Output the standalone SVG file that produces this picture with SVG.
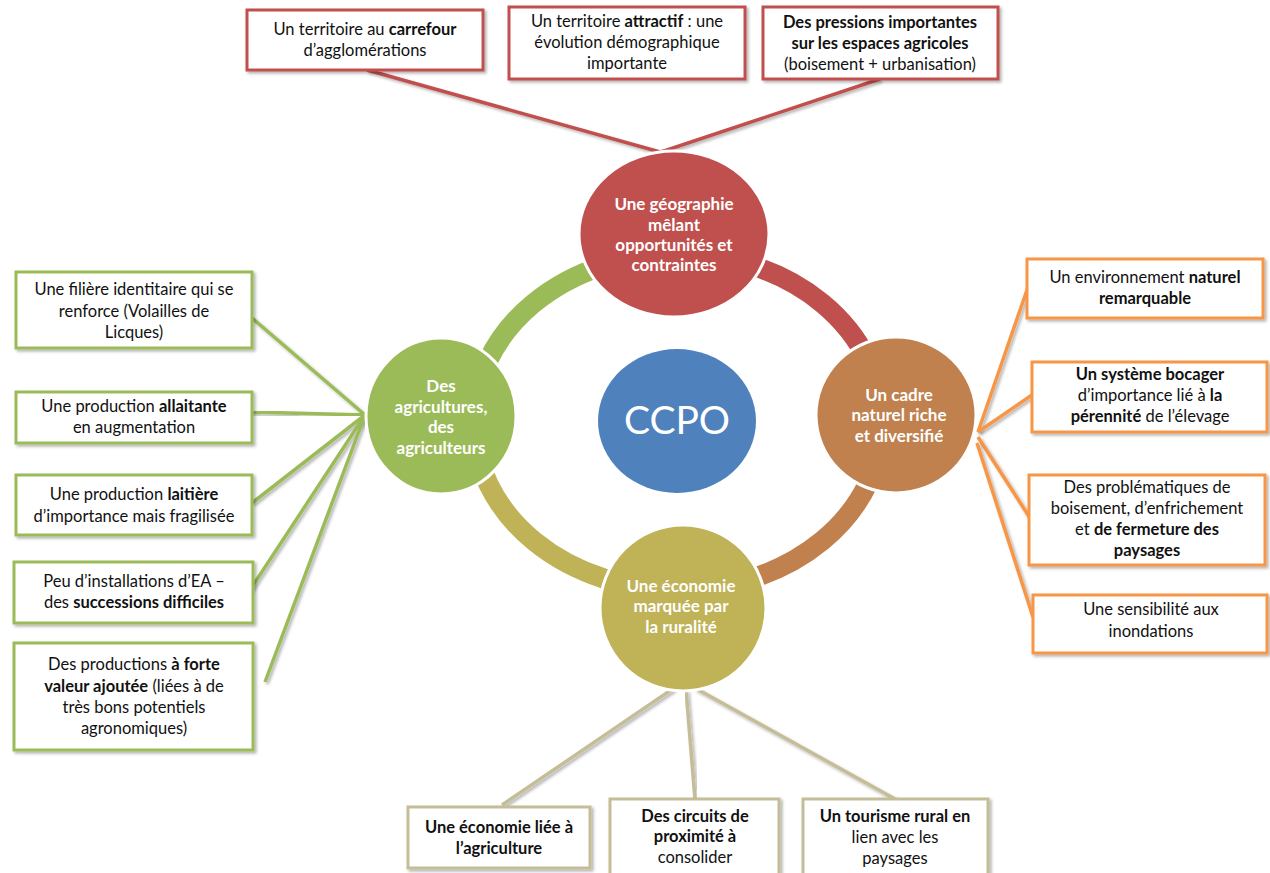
<svg xmlns="http://www.w3.org/2000/svg" width="1270" height="873" viewBox="0 0 1270 873">
<defs>
<filter id="sh" x="-10%" y="-10%" width="130%" height="140%">
<feDropShadow dx="2" dy="2" stdDeviation="1.5" flood-color="#000" flood-opacity="0.3"/>
</filter>
<style>
text{font-family:Lato,"Liberation Sans",sans-serif;font-size:16.5px;fill:#111;text-anchor:middle}
.b{font-weight:bold}
.ct{fill:#fff;font-weight:bold;font-size:17px}
.box{fill:#fff;stroke-width:3;filter:url(#sh)}
.rb{stroke:#C0504D}.gb{stroke:#9BBB59}.ob{stroke:#F79646}.tb{stroke:#C4BD97}
.ln{fill:none;stroke-width:3.5;filter:url(#sh)}
.arc{fill:none;stroke-width:20}
.circ{stroke:#fff;stroke-width:3}
</style>
</defs>
<rect width="1270" height="873" fill="#fff"/>

<g id="connectors">
<line class="ln rb" x1="367" y1="70" x2="660" y2="152"/>
<line class="ln rb" x1="660" y1="79" x2="660" y2="152"/>
<line class="ln rb" x1="880" y1="79" x2="661" y2="152"/>
<line class="ln gb" x1="252" y1="318" x2="365" y2="415"/>
<line class="ln gb" x1="250" y1="412" x2="365" y2="415"/>
<line class="ln gb" x1="252" y1="503" x2="365" y2="415"/>
<line class="ln gb" x1="250" y1="590" x2="365" y2="415"/>
<line class="ln gb" x1="265" y1="682" x2="365" y2="415"/>
<line class="ln ob" x1="978" y1="432" x2="1028" y2="287"/>
<line class="ln ob" x1="978" y1="432" x2="1032" y2="395"/>
<line class="ln ob" x1="978" y1="437" x2="1030" y2="518"/>
<line class="ln ob" x1="977" y1="443" x2="1033" y2="617"/>
<line class="ln tb" x1="674" y1="688" x2="502" y2="805"/>
<line class="ln tb" x1="686" y1="690" x2="695" y2="799"/>
<line class="ln tb" x1="695" y1="688" x2="895" y2="799"/>
</g>

<g id="ring">
<path class="arc" stroke="#9BBB59" d="M474 424 A204 168 0 0 1 678 254"/>
<path class="arc" stroke="#C0504D" d="M678 254 A204 168 0 0 1 882 422"/>
<path class="arc" stroke="#C0814F" d="M882 422 A204 168 0 0 1 678 590"/>
<path class="arc" stroke="#BFB257" d="M678 590 A204 168 0 0 1 474 424"/>
</g>

<g id="n-geo">
<ellipse class="circ" cx="674" cy="234" rx="95" ry="83" fill="#C0504D"/>
<text class="ct" x="674" y="210">Une géographie</text>
<text class="ct" x="674" y="231">mêlant</text>
<text class="ct" x="674" y="251">opportunités et</text>
<text class="ct" x="674" y="271">contraintes</text>
</g>
<g id="n-agri">
<ellipse class="circ" cx="441" cy="416" rx="75" ry="78" fill="#9BBB59"/>
<text class="ct" x="441" y="392">Des</text>
<text class="ct" x="441" y="413">agricultures,</text>
<text class="ct" x="441" y="433">des</text>
<text class="ct" x="441" y="454">agriculteurs</text>
</g>
<g id="n-ccpo">
<ellipse cx="677" cy="421" rx="79" ry="72" fill="#4F81BD"/>
<text x="677" y="434" style="fill:#fff;font-size:39px">CCPO</text>
</g>
<g id="n-cadre">
<ellipse class="circ" cx="896" cy="415" rx="80" ry="78" fill="#C0814F"/>
<text class="ct" x="899" y="401">Un cadre</text>
<text class="ct" x="899" y="421">naturel riche</text>
<text class="ct" x="899" y="442">et diversifié</text>
</g>
<g id="n-eco">
<ellipse class="circ" cx="683" cy="608" rx="83" ry="83" fill="#BFB257"/>
<text class="ct" x="681" y="592">Une économie</text>
<text class="ct" x="681" y="612">marquée par</text>
<text class="ct" x="681" y="633">la ruralité</text>
</g>

<g id="t1">
<rect class="box rb" x="247" y="10" width="236" height="60"/>
<text x="365" y="35">Un territoire au <tspan class="b">carrefour</tspan></text>
<text x="365" y="56">d’agglomérations</text>
</g>
<g id="t2">
<rect class="box rb" x="509" y="7" width="236" height="72"/>
<text x="627" y="27">Un territoire <tspan class="b">attractif</tspan> : une</text>
<text x="627" y="48">évolution démographique</text>
<text x="627" y="69">importante</text>
</g>
<g id="t3">
<rect class="box rb" x="763" y="7" width="235" height="72"/>
<text x="880" y="28" class="b">Des pressions importantes</text>
<text x="880" y="49" class="b">sur les espaces agricoles</text>
<text x="880" y="70">(boisement + urbanisation)</text>
</g>

<g id="l1">
<rect class="box gb" x="16" y="272" width="236" height="76"/>
<text x="134" y="295">Une filière identitaire qui se</text>
<text x="134" y="317">renforce (Volailles de</text>
<text x="134" y="338">Licques)</text>
</g>
<g id="l2">
<rect class="box gb" x="16" y="392" width="236" height="51"/>
<text x="134" y="412">Une production <tspan class="b">allaitante</tspan></text>
<text x="134" y="433">en augmentation</text>
</g>
<g id="l3">
<rect class="box gb" x="16" y="475" width="236" height="60"/>
<text x="134" y="500">Une production <tspan class="b">laitière</tspan></text>
<text x="134" y="522">d’importance mais fragilisée</text>
</g>
<g id="l4">
<rect class="box gb" x="14" y="562" width="239" height="61"/>
<text x="134" y="587">Peu d’installations d’EA –</text>
<text x="134" y="608">des <tspan class="b">successions difficiles</tspan></text>
</g>
<g id="l5">
<rect class="box gb" x="14" y="643" width="239" height="107"/>
<text x="134" y="670">Des productions <tspan class="b">à forte</tspan></text>
<text x="134" y="692"><tspan class="b">valeur ajoutée</tspan> (liées à de</text>
<text x="134" y="713">très bons potentiels</text>
<text x="134" y="734">agronomiques)</text>
</g>

<g id="r1">
<rect class="box ob" x="1027" y="259" width="236" height="59"/>
<text x="1145" y="283">Un environnement <tspan class="b">naturel</tspan></text>
<text x="1145" y="304" class="b">remarquable</text>
</g>
<g id="r2">
<rect class="box ob" x="1032" y="362" width="235" height="70"/>
<text x="1150" y="380" class="b">Un système bocager</text>
<text x="1150" y="401">d’importance lié à <tspan class="b">la</tspan></text>
<text x="1150" y="422"><tspan class="b">pérennité</tspan> de l’élevage</text>
</g>
<g id="r3">
<rect class="box ob" x="1029" y="475" width="236" height="90"/>
<text x="1147" y="493">Des problématiques de</text>
<text x="1147" y="514">boisement, d’enfrichement</text>
<text x="1147" y="535">et <tspan class="b">de fermeture des</tspan></text>
<text x="1147" y="556" class="b">paysages</text>
</g>
<g id="r4">
<rect class="box ob" x="1033" y="595" width="234" height="58"/>
<text x="1151" y="615">Une sensibilité aux</text>
<text x="1151" y="637">inondations</text>
</g>

<g id="b1">
<rect class="box tb" x="408" y="807" width="182" height="61"/>
<text x="499" y="833" class="b">Une économie liée à</text>
<text x="499" y="854" class="b">l’agriculture</text>
</g>
<g id="b2">
<rect class="box tb" x="610" y="799" width="169" height="76"/>
<text x="695" y="822" class="b">Des circuits de</text>
<text x="695" y="842" class="b">proximité à</text>
<text x="695" y="863">consolider</text>
</g>
<g id="b3">
<rect class="box tb" x="803" y="799" width="185" height="76"/>
<text x="895" y="822" class="b">Un tourisme rural en</text>
<text x="895" y="843">lien avec les</text>
<text x="895" y="864">paysages</text>
</g>
</svg>
